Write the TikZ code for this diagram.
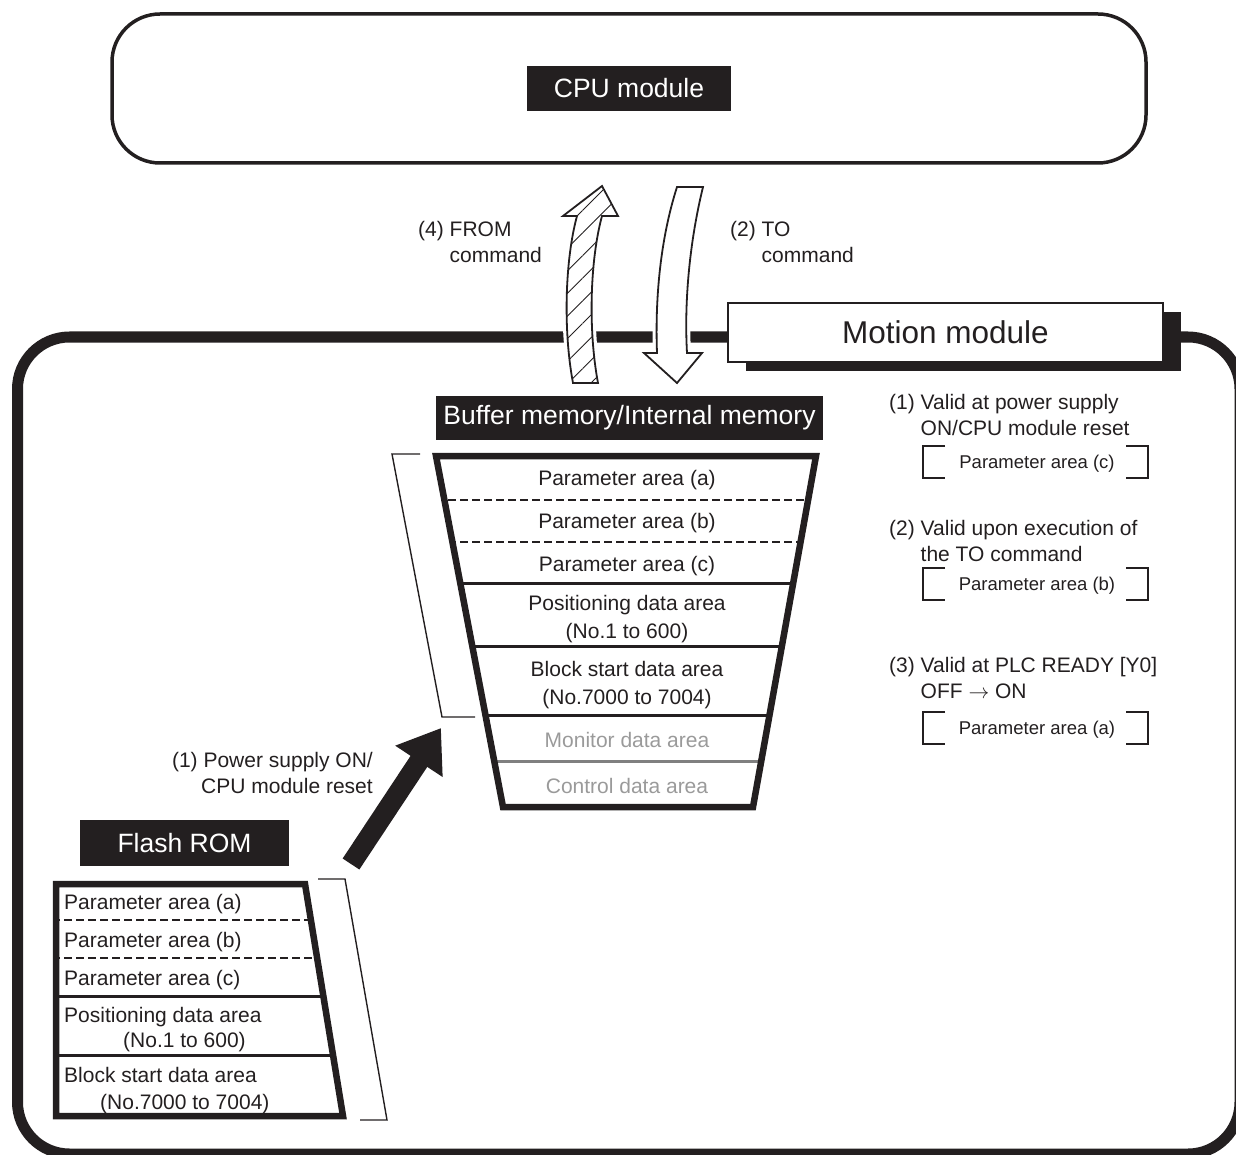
\documentclass[tikz,border=0pt]{standalone}
\usepackage{fontspec}
\setmainfont{Liberation Sans}
\usepackage{tikz}
\usetikzlibrary{arrows.meta,patterns.meta,shadows}
\usepackage{xcolor}
\definecolor{ink}{HTML}{231F20}
\definecolor{dimtext}{HTML}{9A9A9A}
\definecolor{dimline}{HTML}{808080}
\newcommand{\txtmain}{\fontsize{21}{26}\selectfont}
\newcommand{\txtpair}{\fontsize{21}{28}\selectfont}
\newcommand{\txtsmall}{\fontsize{18.5}{22}\selectfont}
\newcommand{\txtbig}{\fontsize{26.5}{30}\selectfont}
\newcommand{\txttitle}{\fontsize{31.5}{36}\selectfont}

\begin{document}
\begin{tikzpicture}[
    x=1pt, y=-1pt,
    txt/.style={font=\txtmain, text=ink, inner sep=0pt},
    tag/.style={fill=ink, text=white, font=\txtbig, inner sep=0pt},
    cpuframe/.style={draw=ink, line width=3.5pt, rounded corners=48pt, minimum width=1034pt, minimum height=149pt},
    modframe/.style={draw=ink, line width=11pt, rounded corners=52pt},
    titlebox/.style={draw=ink, line width=1.5pt, fill=white, font=\txttitle, text=ink,
        minimum width=435pt, minimum height=59pt,
        drop shadow={shadow xshift=18pt, shadow yshift=-9pt, fill=ink, opacity=1}},
    memframe/.style={draw=ink, line width=6.5pt, line join=miter},
    sepdash/.style={draw=ink, line width=2.5pt, dash pattern=on 8pt off 4pt},
    sepline/.style={draw=ink, line width=3pt},
    brk/.style={draw=ink, line width=1.4pt},
    cmdarrow/.style={draw=ink, line width=1.8pt, line join=miter,
        preaction={draw=white, fill=white, line width=8pt}}]
    \useasboundingbox (0,0) rectangle (1236,1155);

    \node[cpuframe] (cpu) at (629,88.5) {};
    \node[tag, minimum width=204pt, minimum height=45pt] (cputag) at (629,88.5) {CPU module};

    \draw[modframe] (17.5,337) rectangle (1240,1154);

    \draw[cmdarrow, pattern={Lines[angle=45,distance=16pt,line width=0.9pt]}, pattern color=ink]
      (573,383) .. controls (563,330) and (565,260) .. (577,216) -- (563,216) -- (602,186)
      -- (618,216) -- (602,216) .. controls (590,260) and (588,330) .. (598,383) -- cycle;
    \draw[cmdarrow]
      (677,187) -- (703,187) .. controls (690,240) and (684,300) .. (687,353) -- (702,353)
      -- (677,383) -- (644,353) -- (657,353) .. controls (655,300) and (660,240) .. (677,187) -- cycle;
    \node[txt, anchor=west, align=left] (fromlbl) at (418,242) {(4) FROM\\\hphantom{(4) }command};
    \node[txt, anchor=west, align=left] (tolbl) at (730,242) {(2) TO\\\hphantom{(2) }command};

    \node[titlebox] (motion) at (945.5,332.5) {Motion module};

    \node[tag, minimum width=387pt, minimum height=44pt] (buftag) at (629.5,418) {Buffer memory/Internal memory};
    \begin{scope}
      \clip (436,456) -- (816,456) -- (753,807) -- (503,807) -- cycle;
      \draw[sepdash] (400,500) -- (850,500);
      \draw[sepdash] (400,542) -- (850,542);
      \draw[sepline] (400,583) -- (850,583);
      \draw[sepline] (400,646) -- (850,646);
      \draw[sepline] (400,715) -- (850,715);
      \draw[sepline, draw=dimline] (400,761) -- (850,761);
    \end{scope}
    \draw[memframe] (436,456) -- (816,456) -- (753,807) -- (503,807) -- cycle;
    \node[txt] (bufa) at (627,480) {Parameter area (a)};
    \node[txt] (bufb) at (627,523) {Parameter area (b)};
    \node[txt] (bufc) at (627,566) {Parameter area (c)};
    \node[txt, font=\txtpair, align=center] (bufpos) at (627,619) {Positioning data area\\(No.1 to 600)};
    \node[txt, font=\txtpair, align=center] (bufblk) at (627,685) {Block start data area\\(No.7000 to 7004)};
    \node[txt, text=dimtext] (bufmon) at (627,740) {Monitor data area};
    \node[txt, text=dimtext] (bufctl) at (627,786) {Control data area};
    \draw[brk] (420,454) -- (392,454) -- (442,717) -- (475,717);

    \node[txt, anchor=west, align=left] (note1) at (889,415) {(1) Valid at power supply\\\hphantom{(1) }ON/CPU module reset};
    \node[txt, anchor=west, align=left] (note2) at (889,541) {(2) Valid upon execution of\\\hphantom{(2) }the TO command};
    \node[txt, anchor=west, align=left] (note3) at (889,678) {(3) Valid at PLC READY [Y0]\\\hphantom{(3) }OFF $\rightarrow$ ON};
    \foreach \y/\p in {462/c,584/b,728/a}{
      \node[txt, font=\txtsmall] (note\p) at (1037,\y+2) {Parameter area (\p)};
      \draw[brk] (945,\y-16) -- (923,\y-16) -- (923,\y+16) -- (945,\y+16);
      \draw[brk] (1126,\y-16) -- (1148,\y-16) -- (1148,\y+16) -- (1126,\y+16);
    }

    \node[tag, minimum width=209pt, minimum height=46pt] (flstag) at (184.5,843) {Flash ROM};
    \begin{scope}
      \clip (56,884) -- (305,884) -- (343,1116) -- (56,1116) -- cycle;
      \draw[sepdash] (40,920) -- (360,920);
      \draw[sepdash] (40,958) -- (360,958);
      \draw[sepline] (40,996) -- (360,996);
      \draw[sepline] (40,1055) -- (360,1055);
    \end{scope}
    \draw[memframe] (56,884) -- (305,884) -- (343,1116) -- (56,1116) -- cycle;
    \node[txt, anchor=west] (flsa) at (64,904) {Parameter area (a)};
    \node[txt, anchor=west] (flsb) at (64,942) {Parameter area (b)};
    \node[txt, anchor=west] (flsc) at (64,980) {Parameter area (c)};
    \node[txt, anchor=west] (flspos) at (64,1017) {Positioning data area};
    \node[txt, anchor=west] (flsposno) at (123,1042) {(No.1 to 600)};
    \node[txt, anchor=west] (flsblk) at (64,1075) {Block start data area};
    \node[txt, anchor=west] (flsblkno) at (100,1104) {(No.7000 to 7004)};
    \draw[brk] (318,879) -- (345,879) -- (387,1120) -- (360,1120);

    \coordinate (pwrfrom) at (351,864);
    \coordinate (pwrto) at (441,728);
    \draw[draw=ink, line width=20pt, -{Triangle[length=40pt,width=54pt]}] (pwrfrom) -- (pwrto);
    \node[txt, anchor=east, align=right] (pwrlbl) at (373,773) {(1) Power supply ON/\\CPU module reset};
  \end{tikzpicture}
\end{document}
